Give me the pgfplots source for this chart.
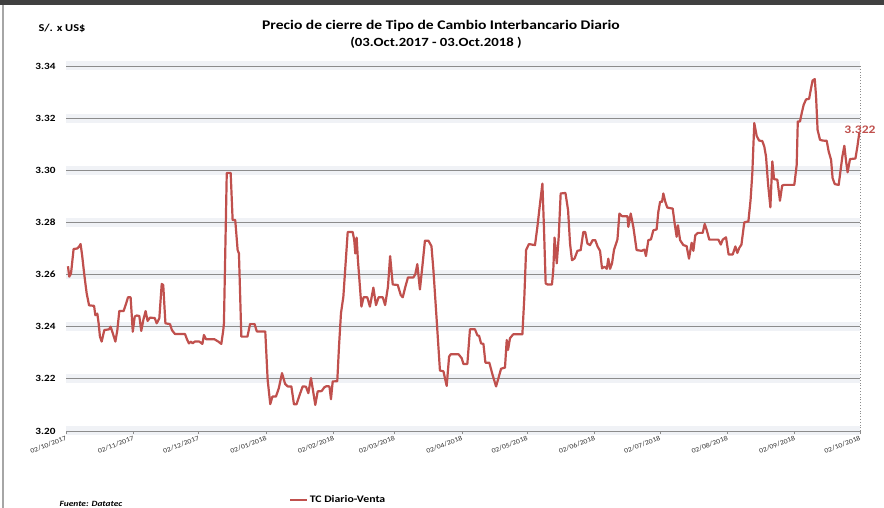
\documentclass[border=0pt]{standalone}
\usepackage{fontspec}
\setmainfont{Carlito}[FakeStretch=1.18]
\usepackage{pgfplots}
\pgfplotsset{compat=1.18}
\definecolor{linered}{HTML}{C0504D}
\definecolor{gridgray}{HTML}{8C8C8C}
\definecolor{glow}{HTML}{F0F2F6}
\begin{document}
\begin{tikzpicture}[x=1pt,y=1pt]
\useasboundingbox (0,0) rectangle (884,508);
\fill[white] (0,0) rectangle (884,508);
\fill[black!75] (0,503) rectangle (884,508);
\draw[gray!70, line width=1.5pt] (3,0) -- (3,503);
\begin{axis}[
  at={(66pt,77pt)}, anchor=south west,
  scale only axis, width=794pt, height=365pt,
  xmin=0, xmax=365, ymin=3.20, ymax=3.34,
  ytick={3.20,3.22,3.24,3.26,3.28,3.30,3.32,3.34},
  yticklabel style={font=\bfseries\fontsize{9.5}{10}\selectfont, /pgf/number format/fixed, /pgf/number format/fixed zerofill, /pgf/number format/precision=2, /pgf/number format/assume math mode=true, xshift=-4pt},
  ytick style={draw=none},
  xtick={0,31,61,92,123,151,182,212,243,273,304,335,365},
  xticklabels={02/10/2017,02/11/2017,02/12/2017,02/01/2018,02/02/2018,02/03/2018,02/04/2018,02/05/2018,02/06/2018,02/07/2018,02/08/2018,02/09/2018,02/10/2018},
  xticklabel style={rotate=21, anchor=north east, font=\fontsize{6.7}{7}\selectfont, inner sep=1pt, text=black!80},
  xtick pos=bottom, tick align=outside, major tick length=3pt,
  xtick style={gridgray, line width=0.6pt},
  axis line style={draw=none},
  ymajorgrids,
  major grid style={gridgray, line width=0.9pt, preaction={draw=glow, line width=9pt}},
  legend style={at={(0.28,-0.189)}, anchor=west, draw=none, fill=none, font=\bfseries\fontsize{10}{11}\selectfont, inner sep=1pt},
  legend image code/.code={\draw[linered, line width=1.3pt] (0pt,0pt) -- (17pt,0pt);},
  clip=false,
]
\addplot[linered, line width=2.2pt, line join=round] coordinates {
(0.9,3.2632) (1.5,3.2592) (2.3,3.2604) (3.5,3.2698) (5.2,3.2700) (6.0,3.2707) (6.7,3.2717) (7.4,3.2675) (8.4,3.2600) (9.5,3.2528) (10.6,3.2482) (12.9,3.2480) (13.5,3.2444) (14.4,3.2450) (15.0,3.2413) (15.6,3.2362) (16.4,3.2343) (17.6,3.2387) (19.8,3.2390) (20.5,3.2400) (21.5,3.2375) (22.7,3.2343) (23.6,3.2387) (24.5,3.2460) (26.5,3.2460) (27.9,3.2496) (28.5,3.2513) (29.7,3.2513) (30.7,3.2381) (31.6,3.2439) (32.5,3.2443) (33.7,3.2441) (34.6,3.2384) (35.6,3.2428) (36.6,3.2460) (37.5,3.2422) (38.6,3.2435) (40.8,3.2433) (41.7,3.2413) (42.9,3.2432) (44.0,3.2564) (44.7,3.2560) (45.7,3.2413) (47.8,3.2410) (48.7,3.2387) (50.1,3.2372) (54.7,3.2372) (55.6,3.2352) (56.5,3.2336) (57.5,3.2343) (58.2,3.2336) (59.2,3.2343) (61.3,3.2343) (62.7,3.2334) (63.4,3.2368) (64.4,3.2352) (68.2,3.2352) (70.0,3.2343) (71.4,3.2334) (72.3,3.2387)
(72.6,3.2413) (73.9,3.2990) (75.7,3.2990) (76.6,3.2809) (77.8,3.2809) (78.9,3.2694) (79.5,3.2681) (80.6,3.2362) (83.4,3.2362) (84.6,3.2410) (86.7,3.2410) (87.7,3.2382) (91.6,3.2382) (92.7,3.2196) (93.9,3.2103) (94.9,3.2132) (96.5,3.2132) (97.8,3.2163) (99.3,3.2222) (100.7,3.2181) (101.9,3.2171) (103.6,3.2171) (104.8,3.2102) (106.0,3.2103) (107.6,3.2143) (108.8,3.2171) (110.3,3.2170) (111.4,3.2145) (112.6,3.2203) (113.5,3.2158) (114.6,3.2100) (115.7,3.2152) (117.5,3.2153) (118.8,3.2168) (119.8,3.2172) (121.1,3.2171) (121.8,3.2122) (122.6,3.2190) (124.7,3.2191) (125.5,3.2324) (126.4,3.2451) (127.5,3.2515) (129.5,3.2763) (131.8,3.2763) (132.5,3.2732) (133.0,3.2681) (133.6,3.2742) (134.2,3.2655) (135.8,3.2477) (136.8,3.2513) (138.5,3.2513) (139.7,3.2477) (141.3,3.2550) (142.5,3.2483) (143.7,3.2513) (145.6,3.2513) (146.7,3.2483)
(148.0,3.2553) (149.0,3.2671) (150.2,3.2562) (152.5,3.2560) (153.9,3.2521) (154.8,3.2513) (156.0,3.2553) (157.2,3.2589) (159.7,3.2589) (160.6,3.2602) (161.5,3.2640) (162.7,3.2543) (163.8,3.2630) (165.0,3.2730) (166.6,3.2730) (168.0,3.2709) (168.9,3.2617) (170.4,3.2426) (171.9,3.2232) (173.5,3.2229) (175.0,3.2173) (176.1,3.2285) (176.8,3.2294) (180.5,3.2294) (181.9,3.2279) (182.7,3.2257) (184.5,3.2257) (185.7,3.2390) (188.0,3.2390) (189.1,3.2367) (189.9,3.2365) (190.8,3.2336) (191.9,3.2334) (192.8,3.2262) (194.6,3.2262) (196.1,3.2215) (197.7,3.2171) (198.9,3.2206) (200.0,3.2239) (201.8,3.2243) (202.6,3.2349) (203.2,3.2311) (204.1,3.2356) (205.6,3.2371) (209.8,3.2371) (210.7,3.2515) (211.5,3.2694) (212.8,3.2717) (215.6,3.2713) (216.7,3.2783) (217.9,3.2872) (219.0,3.2949)
(219.7,3.2783) (220.5,3.2566) (221.3,3.2562) (223.4,3.2562) (224.0,3.2617) (224.6,3.2742) (225.6,3.2643) (226.5,3.2745) (227.4,3.2911) (229.6,3.2913) (230.8,3.2847) (231.7,3.2719) (232.6,3.2655) (233.8,3.2662) (235.1,3.2691) (236.6,3.2694) (237.8,3.2763) (238.7,3.2763) (239.7,3.2719) (240.9,3.2713) (242.1,3.2732) (243.3,3.2732) (244.4,3.2707) (245.5,3.2691) (246.4,3.2624) (247.6,3.2630) (248.6,3.2622) (249.3,3.2661) (250.1,3.2622) (251.0,3.2643) (251.9,3.2694) (253.5,3.2735) (254.4,3.2834) (255.6,3.2824) (258.1,3.2824) (258.5,3.2783) (259.6,3.2834) (260.8,3.2783) (262.3,3.2694) (264.6,3.2691) (265.9,3.2696) (266.6,3.2671) (267.7,3.2732) (268.9,3.2735) (270.0,3.2770) (271.5,3.2773) (272.3,3.2841) (273.1,3.2879) (274.0,3.2879) (274.6,3.2911) (275.5,3.2879) (276.4,3.2857) (278.9,3.2853) (279.8,3.2796) (280.7,3.2745) (281.3,3.2789) (282.3,3.2732) (283.8,3.2713) (285.3,3.2709) (286.4,3.2661) (287.6,3.2722) (288.4,3.2691) (289.3,3.2751) (290.5,3.2760) (292.7,3.2760)
(293.6,3.2794) (294.5,3.2772) (295.7,3.2734) (299.9,3.2734) (301.0,3.2715) (301.9,3.2734) (303.4,3.2743) (304.6,3.2677) (306.5,3.2677) (307.7,3.2708) (308.6,3.2683) (309.5,3.2702) (310.5,3.2715) (311.8,3.2800) (313.7,3.2804) (314.7,3.2887) (315.5,3.2989) (316.4,3.3181) (317.5,3.3132) (318.6,3.3114) (320.1,3.3112) (321.0,3.3091) (321.8,3.3053) (322.7,3.2951) (323.8,3.2858) (324.7,3.3034) (325.5,3.2966) (327.0,3.2964) (328.2,3.2883) (329.2,3.2941) (330.1,3.2944) (334.8,3.2944) (335.9,3.3021) (336.4,3.3187) (337.4,3.3187) (338.2,3.3219) (339.1,3.3251) (340.2,3.3272) (341.6,3.3274) (342.5,3.3315) (343.2,3.3344) (344.2,3.3350) (344.8,3.3283) (345.5,3.3155) (346.6,3.3117) (347.8,3.3114) (349.7,3.3113) (350.6,3.3072) (351.7,3.3040) (352.4,3.2970) (353.4,3.2947) (355.2,3.2944) (356.1,3.3002) (356.9,3.3053) (357.8,3.3094) (358.6,3.3034) (359.3,3.2992) (360.4,3.3043) (362.9,3.3045) (363.8,3.3091) (364.7,3.3145)
};
\addlegendentry{TC Diario-Venta}
\draw[gridgray, dotted, line width=0.8pt] (axis cs:365,3.20) -- (axis cs:365,3.34);
\node[text=linered, font=\bfseries\fontsize{11.5}{12}\selectfont] at (axis cs:365,3.3155) {3.322};
\end{axis}
\node[anchor=west, font=\bfseries\fontsize{10.5}{12}\selectfont] at (35,480) {S/. x US\$};
\node[font=\bfseries\fontsize{13.2}{14}\selectfont] at (441,482) {Precio de cierre de Tipo de Cambio Interbancario Diario};
\node[font=\bfseries\fontsize{12.5}{14}\selectfont] at (436,465) {(03.Oct.2017 - 03.Oct.2018 )};
\node[anchor=west, font=\bfseries\itshape\fontsize{8}{9}\selectfont] at (56,4) {Fuente: Datatec};
\end{tikzpicture}
\end{document}
